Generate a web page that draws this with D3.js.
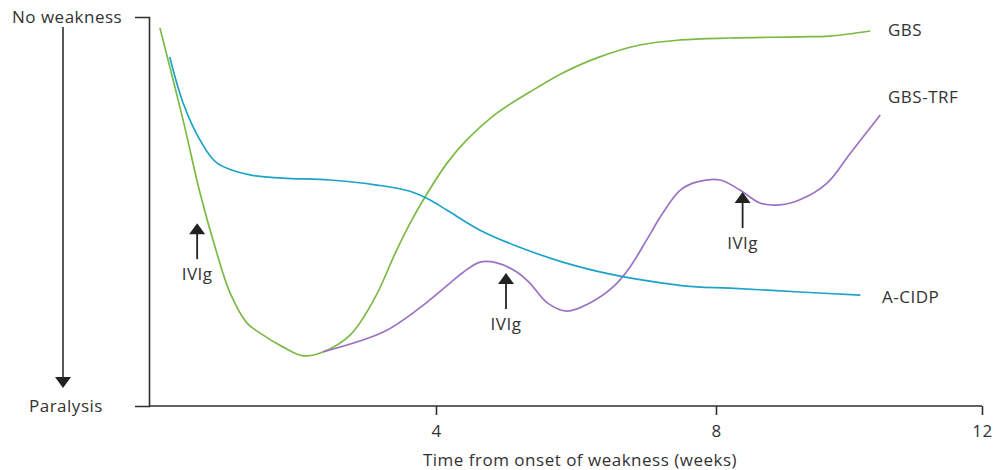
<!DOCTYPE html>
<html>
<head>
<meta charset="utf-8">
<script src="https://cdn.jsdelivr.net/npm/d3@7"></script>
<style>
  html, body { margin: 0; padding: 0; background: #fff; }
  svg text { font-family: "Open Sans", "Noto Sans", sans-serif; fill: #333; letter-spacing: 0.5px; }
</style>
</head>
<body>
<svg id="chart" width="994" height="470"></svg>
<script>
// ---- data (weeks from onset, strength: 0 = paralysis, 100 = no weakness) ----
const gbsWeeks  = [0.07,0.40,0.64,0.88,1.07,1.31,1.49,1.82,2.11,2.39,2.78,3.13,3.44,3.67,3.87,4.16,4.44,4.87,5.34,5.81,6.30,6.91,7.49,8.21,9.26,9.71,10.32];
const gbsValues = [97.2,73.5,54.8,39.3,29.0,21.3,18.8,15.2,12.9,13.9,18.3,27.8,40.1,48.3,54.5,62.5,68.4,75.3,80.7,85.6,89.5,92.8,94.1,94.6,94.9,95.1,96.4];

const trfWeeks  = [2.39,3.25,3.73,4.20,4.39,4.63,4.87,5.16,5.34,5.59,5.87,6.20,6.53,6.77,7.01,7.24,7.49,7.73,8.06,8.36,8.66,8.96,9.26,9.67,10.02,10.47];
const trfValues = [13.9,19.0,24.7,31.6,34.4,37.0,36.8,34.4,31.6,26.5,24.4,26.5,30.6,35.7,42.7,49.6,55.5,57.6,58.1,55.5,52.2,51.7,53.0,57.3,65.0,74.8];

const cidpWeeks  = [0.21,0.40,0.64,0.88,1.35,1.82,2.49,3.16,3.63,3.91,4.16,4.63,5.11,5.81,6.54,7.24,7.73,8.21,9.26,10.17];
const cidpValues = [89.7,77.9,68.4,62.5,59.4,58.6,58.1,56.8,55.2,53.0,50.3,45.2,41.4,37.0,33.7,31.6,30.6,30.3,29.3,28.5];

const seriesNames = ["GBS", "GBS-TRF", "A-CIDP"];
const ivigWeeks = [0.60, 5.0, 8.4];
const ivigTipValues = [47.0, 34.2, 55.0];
const ivigLabel = "IVIg";
const xTickValues = [4, 8, 12];
const yTopLabel = "No weakness";
const yBottomLabel = "Paralysis";
const xTitle = "Time from onset of weakness (weeks)";

// ---- drawing ----
const svg = d3.select("#chart");
const x = d3.scaleLinear().domain([0, 4, 8, 12]).range([155, 436, 716, 982]);
const y = d3.scaleLinear().domain([0, 100]).range([406, 17]);
const axisColor = "#2f2f2f";
const fs = 17;

// left axis (with outer ticks at both ends)
const ga = svg.append("g").attr("transform", "translate(149,0)")
  .call(d3.axisLeft(y).tickValues([]).tickSizeOuter(14));
ga.selectAll("path").attr("stroke", axisColor).attr("stroke-width", 1.6);

// bottom axis
const gb = svg.append("g").attr("transform", "translate(0,406)")
  .call(d3.axisBottom(x).tickValues(xTickValues).tickSize(9).tickPadding(10).tickSizeOuter(0));
gb.select(".domain").remove();
gb.append("line").attr("x1", 149).attr("x2", x(12)).attr("y1", 0).attr("y2", 0)
  .attr("stroke", axisColor).attr("stroke-width", 1.6);
gb.selectAll(".tick line").attr("stroke", axisColor).attr("stroke-width", 1.6);
gb.selectAll(".tick text").style("font-size", fs + "px").style("font-family", "'Open Sans', sans-serif").attr("fill", "#333");

svg.append("text").attr("x", 580).attr("y", 466).attr("text-anchor", "middle")
  .style("font-size", fs + "px").text(xTitle);

// left descriptive arrow
svg.append("text").attr("x", 12).attr("y", 23).style("font-size", fs + "px").text(yTopLabel);
svg.append("text").attr("x", 29).attr("y", 412).style("font-size", fs + "px").text(yBottomLabel);
svg.append("line").attr("x1", 63).attr("x2", 63).attr("y1", 27).attr("y2", 379)
  .attr("stroke", axisColor).attr("stroke-width", 1.6);
svg.append("path").attr("d", "M55,377 L71,377 L63,388 Z").attr("fill", "#222");

// curves
const line = d3.line().x(d => x(d[0])).y(d => y(d[1])).curve(d3.curveCatmullRom.alpha(0.5));
const series = [
  { name: seriesNames[0], w: gbsWeeks,  v: gbsValues,  color: "#7cba45" },
  { name: seriesNames[1], w: trfWeeks,  v: trfValues,  color: "#9c73c2" },
  { name: seriesNames[2], w: cidpWeeks, v: cidpValues, color: "#1da3c9" }
];
series.forEach(s => {
  const pts = s.w.map((w, i) => [w, s.v[i]]);
  svg.append("path").datum(pts).attr("d", line)
    .attr("fill", "none").attr("stroke", s.color).attr("stroke-width", 1.7);
});

// series labels
const labelPos = [[888, 36], [888, 103], [882, 303]];
seriesNames.forEach((n, i) => {
  svg.append("text").attr("x", labelPos[i][0]).attr("y", labelPos[i][1])
    .style("font-size", fs + "px").text(n);
});

// IVIg arrows
ivigWeeks.forEach((w, i) => {
  const cx = x(w), ty = y(ivigTipValues[i]);
  svg.append("line").attr("x1", cx).attr("x2", cx).attr("y1", ty + 8).attr("y2", ty + 36)
    .attr("stroke", "#222").attr("stroke-width", 1.8);
  svg.append("path").attr("d", `M${cx - 8},${ty + 11} L${cx + 8},${ty + 11} L${cx},${ty} Z`).attr("fill", "#222");
  svg.append("text").attr("x", cx).attr("y", ty + 57).attr("text-anchor", "middle")
    .style("font-size", fs + "px").text(ivigLabel);
});
</script>
</body>
</html>
